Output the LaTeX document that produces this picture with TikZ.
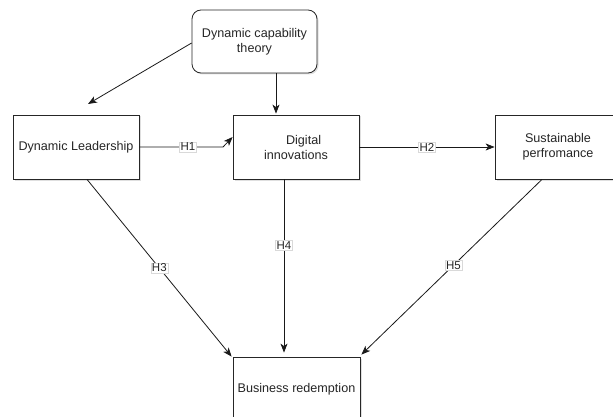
\documentclass[tikz,border=0pt]{standalone}
\usepackage{fontspec}
\setmainfont{Liberation Sans}
\usetikzlibrary{arrows.meta,shadows}

\begin{document}
\begin{tikzpicture}[x=1pt,y=-1pt,
	>={Stealth[length=9pt,width=7pt,inset=2.5pt]},
	caja/.style={draw=black!85, fill=white, line width=.8pt, minimum width=126pt, minimum height=64pt,
		align=center, text=black!85, font=\fontsize{12.6}{15}\selectfont,
		drop shadow={shadow xshift=1.5pt, shadow yshift=-1.5pt, opacity=.25}},
	etiq/.style={fill=white, draw=black!15, line width=.3pt, inner sep=1.2pt, text=black!85,
		font=\fontsize{11.5}{12}\selectfont},
	flecha/.style={->, line width=.8pt, black!90}]
\useasboundingbox (0,0) rectangle (613,417);

%%%%%%%%%%%%%%%%%%%%%%%%%%%%%%%%%%%%%%%%%%%%%%%%	CAJAS
\node[caja, rounded corners=9pt, minimum width=125pt, minimum height=63pt] (dct) at (254.5,41.5) {Dynamic capability\\theory};
\node[caja] (dl) at (76,147) {Dynamic Leadership};
\node[caja] (di) at (296,147) {\hspace*{1.2em}Digital\\innovations};	%%%%	texto corrido como en el original
\node[caja] (sp) at (558,147) {Sustainable\\perfromance};
\node[caja, minimum width=127pt] (br) at (296.5,389) {Business redemption};

%%%%%%%%%%%%%%%%%%%%%%%%%%%%%%%%%%%%%%%%%%%%%%%%	PUNTOS LIBRES
\coordinate (dlin) at (88,104);
\coordinate (h1bend) at (223,147);

%%%%%%%%%%%%%%%%%%%%%%%%%%%%%%%%%%%%%%%%%%%%%%%%	FLECHAS DE LA TEORIA
\draw[flecha] ([yshift=-1.5pt]dct.west) -- (dlin);
\draw[flecha] ([xshift=21.5pt]dct.south) -- ([xshift=-20pt,yshift=1pt]di.north);

%%%%%%%%%%%%%%%%%%%%%%%%%%%%%%%%%%%%%%%%%%%%%%%%	HIPOTESIS
\draw[flecha] (dl.east) -- node[etiq, pos=.58]{H1} (h1bend) -- ([yshift=10pt]di.west);
\draw[flecha] (di.east) -- node[etiq]{H2} (sp.west);
\draw[flecha] ([xshift=11pt]dl.south) -- node[etiq, pos=.5]{H3} ([xshift=-1pt]br.north west);
\draw[flecha] ([xshift=-12pt]di.south) -- node[etiq, pos=.38]{H4} ([xshift=-12.5pt,yshift=4pt]br.north);
\draw[flecha] ([xshift=-16pt]sp.south) -- node[etiq, pos=.49]{H5} ([xshift=1pt,yshift=2pt]br.north east);

\end{tikzpicture}
\end{document}
